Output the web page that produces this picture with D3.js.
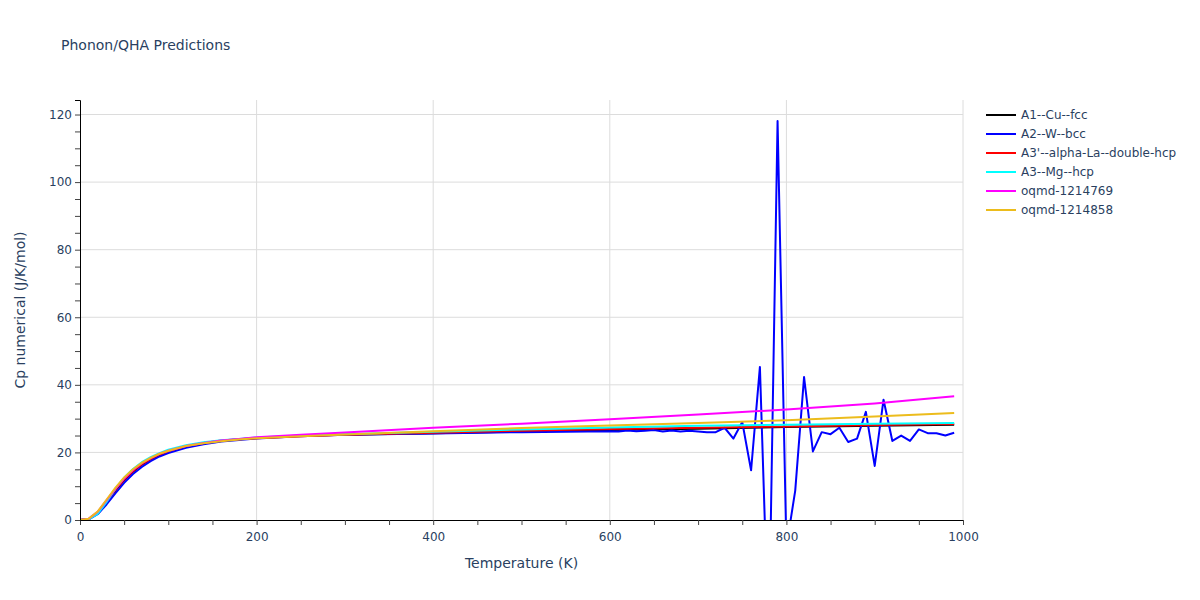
<!DOCTYPE html>
<html>
<head>
<meta charset="utf-8">
<script src="https://cdn.jsdelivr.net/npm/d3@7"></script>
<style>
    body { margin: 0; background: #fff; }
    svg text { font-family: "DejaVu Sans", verdana, sans-serif; fill: #2a3f5f; }
</style>
</head>
<body>
<div id="chart"></div>
<script>
// temperatures for the smooth curves (K)
const tSmooth = [0, 10, 20, 30, 40, 50, 60, 70, 80, 90, 100, 120, 140, 160, 180, 200, 250, 300, 400, 500, 600, 700, 800, 900, 990];

const cuFcc   = [0, 0.3, 2.1, 5.3, 8.7, 11.8, 14.3, 16.4, 18.0, 19.3, 20.3, 21.8, 22.8, 23.4, 23.9, 24.3, 24.9, 25.2, 25.7, 26.2, 26.6, 27.0, 27.5, 27.9, 28.2];
const laDhcp  = [0, 0.3, 2.2, 5.5, 8.9, 12.0, 14.5, 16.5, 18.1, 19.4, 20.4, 21.9, 22.8, 23.5, 23.9, 24.2, 24.8, 25.2, 25.8, 26.4, 26.9, 27.3, 27.7, 28.1, 28.4];
const mgHcp   = [0, 0.2, 1.8, 5.3, 9.2, 12.5, 15.1, 17.1, 18.6, 19.8, 20.8, 22.1, 23.0, 23.6, 24.0, 24.4, 25.0, 25.4, 26.1, 26.8, 27.4, 27.9, 28.2, 28.5, 28.7];
const oq769   = [0, 0.4, 2.4, 5.8, 9.2, 12.3, 14.8, 16.8, 18.3, 19.6, 20.5, 21.9, 22.8, 23.5, 24.0, 24.5, 25.2, 25.9, 27.3, 28.5, 29.8, 31.2, 32.7, 34.5, 36.6];
const oq858   = [0, 0.4, 2.5, 6.0, 9.5, 12.6, 15.0, 16.9, 18.4, 19.6, 20.5, 21.9, 22.7, 23.3, 23.8, 24.2, 24.8, 25.3, 26.3, 27.2, 28.0, 28.7, 29.5, 30.6, 31.7];

// W bcc gets noisy above 600 K
const tW = [0, 10, 20, 30, 40, 50, 60, 70, 80, 90, 100, 120, 140, 160, 180, 200, 250, 300, 400, 500, 600,
    610, 620, 630, 640, 650, 660, 670, 680, 690, 700, 710, 720, 730, 740, 750, 760, 770, 780, 790, 800,
    810, 820, 830, 840, 850, 860, 870, 880, 890, 900, 910, 920, 930, 940, 950, 960, 970, 980, 990];
const wBcc = [0, 0.2, 1.7, 4.6, 7.9, 11.0, 13.6, 15.7, 17.4, 18.8, 19.8, 21.4, 22.4, 23.2, 23.7, 24.1, 24.8, 25.2, 25.6, 26.0, 26.3,
    26.2, 26.5, 26.3, 26.4, 26.6, 26.2, 26.5, 26.2, 26.4, 26.2, 26.0, 26.0, 27.3, 24.1, 29.0, 14.7, 45.3, -37, 118.1, -8,
    8.7, 42.3, 20.3, 26.0, 25.4, 27.3, 23.1, 24.1, 32.0, 16.0, 35.6, 23.4, 25.0, 23.4, 26.8, 25.7, 25.7, 25.0, 25.8];

const seriesNames  = ["A1--Cu--fcc", "A2--W--bcc", "A3'--alpha-La--double-hcp", "A3--Mg--hcp", "oqmd-1214769", "oqmd-1214858"];
const seriesColors = ["#000000", "#0000ff", "#ff0000", "#00ffff", "#ff00ff", "#ecbc1c"];
const seriesValues = [cuFcc, wBcc, laDhcp, mgHcp, oq769, oq858];
const seriesTemps  = [tSmooth, tW, tSmooth, tSmooth, tSmooth, tSmooth];

const xTicks = [0, 200, 400, 600, 800, 1000];
const yTicks = [0, 20, 40, 60, 80, 100, 120];

const width = 1200, height = 600;
const margin = {top: 100, right: 237, bottom: 80, left: 80};
const innerW = width - margin.left - margin.right;
const innerH = height - margin.top - margin.bottom;

const svg = d3.select("#chart").append("svg")
    .attr("width", width)
    .attr("height", height);

svg.append("text")
    .attr("x", 61)
    .attr("y", 50)
    .attr("font-size", 14)
    .text("Phonon/QHA Predictions");

const x = d3.scaleLinear().domain([0, 1000]).range([0, innerW]);
const y = d3.scaleLinear().domain([0, 124.3]).range([innerH, 0]);

const g = svg.append("g").attr("transform", `translate(${margin.left},${margin.top})`);

// grid
g.append("g").selectAll("line").data(xTicks.filter(d => d > 0)).join("line")
    .attr("x1", d => x(d)).attr("x2", d => x(d))
    .attr("y1", 0).attr("y2", innerH)
    .attr("stroke", "#dcdcdc").attr("stroke-width", 1);
g.append("g").selectAll("line").data(yTicks.filter(d => d > 0)).join("line")
    .attr("x1", 0).attr("x2", innerW)
    .attr("y1", d => y(d)).attr("y2", d => y(d))
    .attr("stroke", "#dcdcdc").attr("stroke-width", 1);

// lines, clipped to the plot area
g.append("clipPath").attr("id", "plotclip")
    .append("rect").attr("width", innerW).attr("height", innerH);

const line = d3.line().x(d => x(d[0])).y(d => y(d[1]));
const lines = g.append("g").attr("clip-path", "url(#plotclip)");
seriesNames.forEach((name, i) => {
    const pts = seriesTemps[i].map((t, j) => [t, seriesValues[i][j]]);
    lines.append("path")
        .datum(pts)
        .attr("d", line)
        .attr("fill", "none")
        .attr("stroke", seriesColors[i])
        .attr("stroke-width", 2)
        .attr("stroke-linejoin", "round");
});

// axes
const xAxis = g.append("g")
    .attr("transform", `translate(0,${innerH})`)
    .call(d3.axisBottom(x).tickValues(d3.range(0, 1001, 50)).tickSize(5)
        .tickFormat(d => xTicks.includes(d) ? d : ""));
const yAxis = g.append("g")
    .call(d3.axisLeft(y).tickValues(d3.range(0, 121, 5)).tickSize(5)
        .tickFormat(d => yTicks.includes(d) ? d : ""));

[xAxis, yAxis].forEach(a => {
    a.select(".domain").attr("stroke", "#000").attr("stroke-width", 1);
    a.selectAll(".tick line").attr("stroke", "#444");
    a.selectAll(".tick text").attr("font-size", 12).attr("fill", "#2a3f5f")
        .style("font-family", '"DejaVu Sans", verdana, sans-serif');
});
xAxis.selectAll(".tick text").attr("dy", "1.05em");
yAxis.selectAll(".tick text").attr("x", -8);

svg.append("text")
    .attr("x", margin.left + innerW / 2)
    .attr("y", 568)
    .attr("text-anchor", "middle")
    .attr("font-size", 14)
    .text("Temperature (K)");

svg.append("text")
    .attr("transform", `translate(25,${margin.top + innerH / 2}) rotate(-90)`)
    .attr("text-anchor", "middle")
    .attr("font-size", 14)
    .text("Cp numerical (J/K/mol)");

// legend
const legend = svg.append("g").attr("transform", "translate(986,115)");
seriesNames.forEach((name, i) => {
    const row = legend.append("g").attr("transform", `translate(0,${i * 19})`);
    row.append("line")
        .attr("x1", 0).attr("x2", 30)
        .attr("stroke", seriesColors[i]).attr("stroke-width", 2);
    row.append("text")
        .attr("x", 35).attr("dy", "0.35em")
        .attr("font-size", 12)
        .text(name);
});
</script>
</body>
</html>
